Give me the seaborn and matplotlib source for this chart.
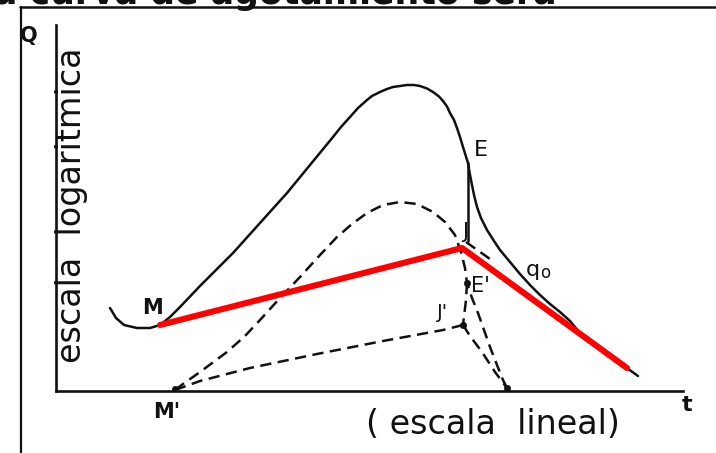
import matplotlib
matplotlib.use("Agg")
import matplotlib.pyplot as plt
from matplotlib.lines import Line2D
import seaborn as sns
import pandas as pd

sns.set_theme(style="white")
plt.rcParams["font.family"] = ["DejaVu Sans"]

INK = "#111111"
RED = "#ff0000"

# Total discharge hydrograph Q(t): time on a linear scale, Q on a log scale
hydro_t = [5.4, 6.0, 6.8, 8.1, 9.4, 10.4, 11.4, 12.4, 14.4, 17.7, 20.4, 23.1,
           25.4, 27.7, 28.5, 29.4, 30.2, 31.1, 31.6, 32.4, 33.1, 33.7, 34.4,
           35.1, 35.8, 36.4, 37.1, 37.7, 38.3, 38.7, 39.1, 39.4, 39.8, 40.1,
           40.4, 40.7, 41.2, 41.35, 41.5, 41.8, 42.1, 42.5, 43.1, 43.8, 44.4,
           45.4, 46.4, 47.4, 48.4, 49.4, 50.4, 51.4, 52.4, 54.4, 56.4, 58.2]
hydro_q = [8.3, 7.3, 6.6, 6.3, 6.3, 6.6, 7.4, 8.4, 10.5, 13.8, 16.8, 19.8,
           22.6, 25.4, 26.4, 27.4, 28.3, 29.1, 29.5, 29.9, 30.2, 30.4, 30.5,
           30.6, 30.6, 30.5, 30.25, 29.9, 29.45, 29.0, 28.45, 27.8, 27.1, 26.3,
           25.4, 24.4, 22.8, 21.9, 21.1, 19.6, 18.4, 17.3, 16.1, 15.0, 14.1,
           12.9, 11.7, 10.6, 9.6, 8.7, 7.9, 7.0, 5.8, 4.3, 2.8, 1.5]

# Vertical drop from E to J
drop_t = [41.2, 41.2]
drop_q = [22.8, 15.0]

# Base-flow separation M - J - recession (red)
base_t = [10.4, 40.6, 57.1]
base_q = [6.6, 14.3, 2.3]

# Direct runoff hydrograph M' - E'
runoff_t = [11.9, 12.7, 14.4, 17.1, 18.9, 20.4, 22.4, 24.4, 26.4, 28.1, 29.6,
            31.1, 32.7, 34.4, 36.1, 37.7, 38.9, 39.9, 40.5, 40.9, 41.1, 41.6,
            42.2, 42.8, 43.4, 44.1, 44.7, 45.1]
runoff_q = [0.1, 0.7, 1.9, 3.9, 5.5, 7.1, 9.3, 11.4, 13.6, 15.4, 16.7, 17.8,
            18.6, 18.9, 18.7, 17.9, 16.9, 15.6, 13.9, 12.3, 10.8, 9.3, 7.8,
            6.1, 4.4, 2.6, 1.1, 0.3]

# Base flow on linear scale M' - J' and its recession
lin_base_t = [11.9, 14.4, 19.4, 26.1, 32.7, 38.7, 40.7]
lin_base_q = [0.1, 1.0, 2.3, 3.7, 5.0, 6.1, 6.6]
lin_rec_t = [40.7, 41.4, 42.6, 43.9, 45.1]
lin_rec_q = [6.6, 5.5, 3.9, 1.9, 0.3]

# E' - J' link and recession extension from J
link_t = [41.1, 41.0, 40.7]
link_q = [10.8, 9.1, 6.6]
ext_t = [41.0, 43.4]
ext_q = [14.9, 13.2]

# Marked points
pts_t = [41.1, 40.7, 45.1, 11.9]
pts_q = [10.8, 6.6, 0.3, 0.2]

fig = plt.figure(figsize=(7.16, 4.53), dpi=100)
ax = fig.add_axes([56 / 716, 62 / 453, 627 / 716, 366 / 453])


def curve(t, q, dashed=False, color=INK, lw=1.8, z=2):
    df = pd.DataFrame({"t": t, "q": q})
    sns.lineplot(data=df, x="t", y="q", sort=False, estimator=None,
                 color=color, linewidth=lw, ax=ax, zorder=z)
    line = ax.lines[-1]
    line.set_solid_capstyle("round")
    line.set_solid_joinstyle("round")
    if dashed:
        line.set_linestyle((0, (4.5, 2.6)))
        line.set_dash_capstyle("butt")
    return line


curve(hydro_t, hydro_q)
curve(drop_t, drop_q)
curve(runoff_t, runoff_q, dashed=True)
curve(lin_base_t, lin_base_q, dashed=True)
curve(lin_rec_t, lin_rec_q, dashed=True)
curve(link_t, link_q, dashed=True)
curve(ext_t, ext_q, dashed=True)
curve(base_t, base_q, color=RED, lw=4.4, z=3)

sns.scatterplot(x=pts_t, y=pts_q, color=INK, s=22, edgecolor=INK, ax=ax, zorder=4)

ax.set_xlim(0, 62.7)
ax.set_ylim(0, 36.6)
ax.set_xticks([])
ax.set_yticks([])
ax.set_xlabel("")
ax.set_ylabel("")
ax.patch.set_alpha(0)
for side in ("top", "right"):
    ax.spines[side].set_visible(False)
for side in ("left", "bottom"):
    ax.spines[side].set_visible(True)
    ax.spines[side].set_color(INK)
    ax.spines[side].set_linewidth(1.9)

# Point labels
lab = dict(color=INK, ha="center", va="center", clip_on=False)
ax.text(42.5, 24.1, "E", fontsize=16, **lab)
ax.text(40.9, 15.9, "J", fontsize=15, **lab)
ax.text(42.4, 10.5, "E'", fontsize=15, **lab)
ax.text(38.6, 7.9, "J'", fontsize=14, **lab)
ax.text(47.7, 12.1, "q", fontsize=16, **lab)
ax.text(48.9, 11.8, "o", fontsize=12, **lab)
ax.text(9.6, 8.3, "M", fontsize=15, fontweight="bold", **lab)
ax.text(11.1, -2.1, "M'", fontsize=15, fontweight="bold", **lab)
ax.text(-2.7, 35.5, "Q", fontsize=15, fontweight="bold", **lab)
ax.text(63.1, -1.4, "t", fontsize=16, fontweight="bold", **lab)

# Axis scale captions
ax.text(43.7, -3.4, "( escala  lineal)", fontsize=24, **lab)
ax.text(1.6, 18.6, "escala  logaritmica", fontsize=24, rotation=90, **lab)

# Page frame and running heading
fig.add_artist(Line2D([20.5 / 716, 20.5 / 716], [0, 1 - 7 / 453],
                      color=INK, lw=1.6, transform=fig.transFigure))
fig.add_artist(Line2D([20 / 716, 1], [1 - 7 / 453, 1 - 7 / 453],
                      color=INK, lw=1.8, transform=fig.transFigure))
fig.text(557 / 716, 1 - 4 / 453, "la curva de agotamiento sera",
         fontsize=25, fontweight="bold", ha="right", va="baseline", color=INK)

fig.savefig("out.png", dpi=100, facecolor="white")
